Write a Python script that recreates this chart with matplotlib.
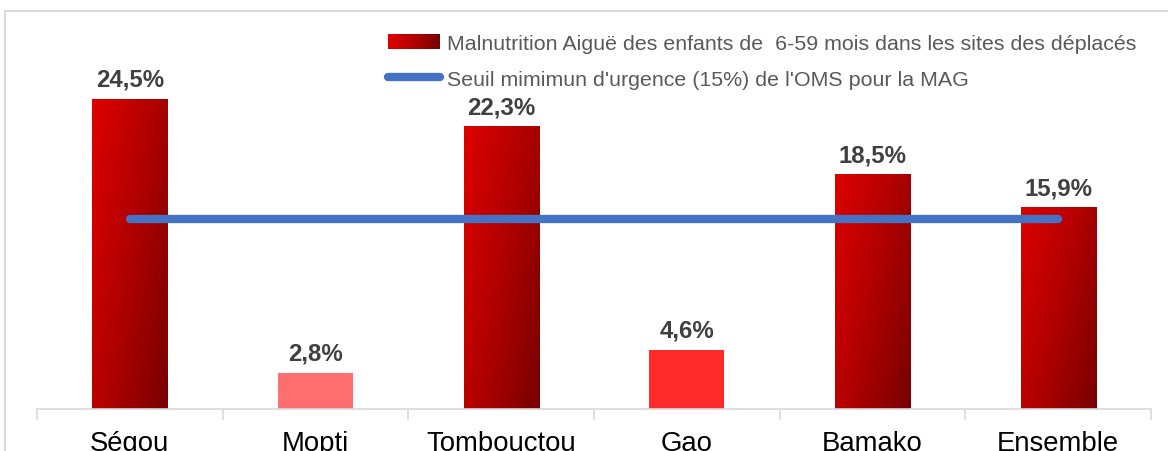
import matplotlib
matplotlib.use("Agg")
import matplotlib.pyplot as plt
import numpy as np
from matplotlib.patches import Rectangle
from matplotlib.lines import Line2D
from matplotlib.legend_handler import HandlerBase
from matplotlib.colors import LinearSegmentedColormap

plt.rcParams['font.family'] = ['Liberation Sans', 'DejaVu Sans']

categories = ["Ségou", "Mopti", "Tombouctou", "Gao", "Bamako", "Ensemble"]
values = [24.5, 2.8, 22.3, 4.6, 18.5, 15.9]
labels = ["24,5%", "2,8%", "22,3%", "4,6%", "18,5%", "15,9%"]
threshold = [15, 15, 15, 15, 15, 15]
solid_colors = {1: "#FF6F6F", 3: "#FF2A2A"}
legend_bar = "Malnutrition Aiguë des enfants de  6-59 mois dans les sites des déplacés"
legend_line = "Seuil mimimun d'urgence (15%) de l'OMS pour la MAG"

W, H = 1168, 452
fig = plt.figure(figsize=(W / 100, H / 100), dpi=100)
ax = fig.add_axes([37 / W, 42.5 / H, (1151 - 37) / W, 354.2 / H])

cmap = LinearSegmentedColormap.from_list("rg", ["#DE0000", "#B00000", "#780000"])
grad_u = np.linspace(0, 1, 60)[None, :]
grad_v = np.linspace(0, 1, 200)[:, None]
grad = 0.6 * grad_u + 0.4 * grad_v

x = np.arange(len(categories))
bw = 0.405
bars = ax.bar(x, values, width=bw, color="none", edgecolor="none", zorder=2)
for i, (b, v) in enumerate(zip(bars, values)):
    if i in solid_colors:
        b.set_facecolor(solid_colors[i])
    else:
        x0 = b.get_x()
        im = ax.imshow(grad, cmap=cmap, extent=[x0, x0 + bw, 0, v],
                       origin="upper", aspect="auto", zorder=2, interpolation="bilinear")
        im.set_clip_path(b)
        b.set_edgecolor("#E8A0A0")
        b.set_linewidth(0.6)
    ax.annotate(labels[i], (x[i], v), xytext=(0, 6), textcoords="offset points",
                ha="center", va="bottom", fontsize=17.3, fontweight="bold", color="#404040")

ax.plot(x, threshold, color="#4472C4", lw=6, solid_capstyle="round", zorder=3)
ax.set_aspect("auto")
ax.set_xlim(-0.5, 5.5)
ax.set_ylim(0, 28)

for s in ["left", "right", "top"]:
    ax.spines[s].set_visible(False)
ax.spines["bottom"].set_color("#D9D9D9")
ax.spines["bottom"].set_linewidth(1.2)
ax.set_yticks([])
ax.set_xticks(x)
ax.set_xticklabels(categories, fontsize=19.8, color="#000000")
ax.tick_params(axis="x", which="major", length=0, pad=15.3)
ax.set_xticks(np.arange(-0.5, 6, 1), minor=True)
ax.tick_params(axis="x", which="minor", length=8, color="#D9D9D9", width=1.2)


class GradHandler(HandlerBase):
    def create_artists(self, legend, orig_handle, xdescent, ydescent, width, height, fontsize, trans):
        arts = []
        n = 20
        cols = cmap(np.linspace(0, 1, n))
        for k in range(n):
            r = Rectangle((xdescent + width * k / n, ydescent), width / n + 0.3, height,
                          facecolor=cols[k], edgecolor="none", transform=trans)
            arts.append(r)
        return arts


bar_handle = Rectangle((0, 0), 1, 1)
line_handle = Line2D([0], [0], color="#4472C4", lw=6, solid_capstyle="round")
leg = fig.legend([bar_handle, line_handle], [legend_bar, legend_line],
                 handler_map={Rectangle: GradHandler()},
                 loc="upper left", bbox_to_anchor=(388 / W, 1 - 35 / H),
                 frameon=False, fontsize=15.4, labelcolor="#595959",
                 handlelength=2.43, handleheight=0.7, handletextpad=0.33,
                 labelspacing=0.78, borderpad=0, borderaxespad=0)

fig.patches.append(Rectangle((5 / W, -0.1), 1.2, 1 - 11.5 / H + 0.1, transform=fig.transFigure,
                             facecolor="none", edgecolor="#D9D9D9", lw=1.5, zorder=0))

fig.savefig("out.png", dpi=100)
